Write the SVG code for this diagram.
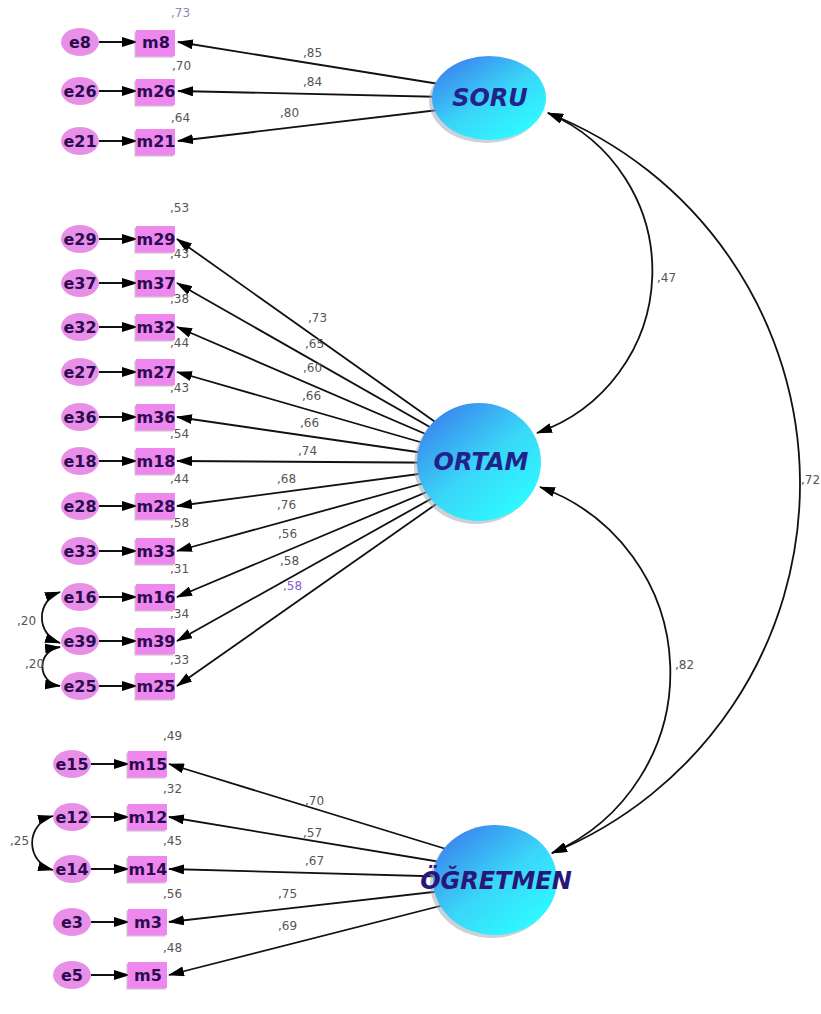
<svg xmlns="http://www.w3.org/2000/svg" width="821" height="1014" viewBox="0 0 821 1014">
<style>
.obs{fill:#ee88ee}
.obsh{fill:#b470b4;opacity:.55}
.err{fill:#e890e8}
.lbl{font-family:"DejaVu Sans",sans-serif;font-weight:bold;font-size:16px;fill:#2b0b4f;text-anchor:middle}
.lat{font-family:"DejaVu Sans",sans-serif;font-weight:bold;font-style:italic;font-size:24px;fill:#22228a;text-anchor:middle}
.num{font-family:"DejaVu Sans",sans-serif;font-size:12px;fill:#555}
.conn{stroke:#111;stroke-width:1.8;fill:none;marker-end:url(#ah)}
.cov{stroke:#111;stroke-width:1.8;fill:none;marker-start:url(#ah);marker-end:url(#ah)}
.sh{fill:#9aa4b4;opacity:.5}
</style>
<defs>
<marker id="ah" viewBox="0 0 16 10" refX="15" refY="5" markerWidth="16" markerHeight="10" markerUnits="userSpaceOnUse" orient="auto-start-reverse"><path d="M0,0 L16,5 L0,10 z" fill="#000"/></marker>
<linearGradient id="lg" x1="0.1" y1="0.1" x2="0.8" y2="0.9"><stop offset="0" stop-color="#3a84ee"/><stop offset="0.55" stop-color="#3ad6f8"/><stop offset="1" stop-color="#2ef8ff"/></linearGradient>
</defs>
<rect width="821" height="1014" fill="#fff"/>

<g id="connectors">
<path class="conn" d="M489,92 L178,42"/>
<path class="conn" d="M489,98 L178,91"/>
<path class="conn" d="M489,104 L178,141"/>
<path class="conn" d="M479,453 L177,239"/>
<path class="conn" d="M479,455 L177,283"/>
<path class="conn" d="M479,457 L177,327"/>
<path class="conn" d="M479,459 L177,372"/>
<path class="conn" d="M479,461 L177,417"/>
<path class="conn" d="M479,463 L177,461"/>
<path class="conn" d="M479,466 L177,506"/>
<path class="conn" d="M479,468 L177,551"/>
<path class="conn" d="M479,470 L177,597"/>
<path class="conn" d="M479,472 L177,641"/>
<path class="conn" d="M479,474 L177,686"/>
<path class="conn" d="M495,864 L169,764"/>
<path class="conn" d="M495,871 L169,817"/>
<path class="conn" d="M495,878 L169,869"/>
<path class="conn" d="M495,885 L169,922"/>
<path class="conn" d="M495,892 L169,975"/>
<path class="conn" d="M99,42 L137,42"/>
<path class="conn" d="M99,91 L137,91"/>
<path class="conn" d="M99,141 L137,141"/>
<path class="conn" d="M99,239 L137,239"/>
<path class="conn" d="M99,283 L137,283"/>
<path class="conn" d="M99,327 L137,327"/>
<path class="conn" d="M99,372 L137,372"/>
<path class="conn" d="M99,417 L137,417"/>
<path class="conn" d="M99,461 L137,461"/>
<path class="conn" d="M99,506 L137,506"/>
<path class="conn" d="M99,551 L137,551"/>
<path class="conn" d="M99,597 L137,597"/>
<path class="conn" d="M99,641 L137,641"/>
<path class="conn" d="M99,686 L137,686"/>
<path class="conn" d="M91,764 L129,764"/>
<path class="conn" d="M91,817 L129,817"/>
<path class="conn" d="M91,869 L129,869"/>
<path class="conn" d="M91,922 L129,922"/>
<path class="conn" d="M91,975 L129,975"/>
<path class="cov" d="M548,113 A171.6,171.6 0 0 1 537,433"/>
<path class="cov" d="M540,487 A197,197 0 0 1 552,853"/>
<path class="cov" d="M548,113 A398.8,398.8 0 0 1 552,853"/>
<path class="cov" d="M60,592 A27,27 0 0 0 60,643"/>
<path class="cov" d="M60,647 A19.6,19.6 0 0 0 60,686"/>
<path class="cov" d="M53,816 A27.9,27.9 0 0 0 53,870"/>
<text class="num" x="303" y="57">,85</text>
<text class="num" x="303" y="86">,84</text>
<text class="num" x="280" y="117">,80</text>
<text class="num" x="308" y="322">,73</text>
<text class="num" x="305" y="348">,65</text>
<text class="num" x="303" y="372">,60</text>
<text class="num" x="302" y="400">,66</text>
<text class="num" x="300" y="427">,66</text>
<text class="num" x="298" y="455">,74</text>
<text class="num" x="277" y="483">,68</text>
<text class="num" x="277" y="509">,76</text>
<text class="num" x="278" y="538">,56</text>
<text class="num" x="280" y="565">,58</text>
<text class="num" x="283" y="590" style="fill:#8a5ad0">,58</text>
<text class="num" x="305" y="805">,70</text>
<text class="num" x="303" y="837">,57</text>
<text class="num" x="305" y="865">,67</text>
<text class="num" x="278" y="898">,75</text>
<text class="num" x="278" y="930">,69</text>
<text class="num" x="657" y="282">,47</text>
<text class="num" x="675" y="669">,82</text>
<text class="num" x="801" y="484">,72</text>
<text class="num" x="17" y="625">,20</text>
<text class="num" x="25" y="668">,20</text>
<text class="num" x="10" y="845">,25</text>
</g>

<g id="SORU"><ellipse class="sh" cx="486" cy="101" rx="57" ry="42"/><ellipse cx="489" cy="98" rx="57" ry="42" fill="url(#lg)"/><text class="lat" x="490" y="106">SORU</text></g>
<g id="ORTAM"><ellipse class="sh" cx="476" cy="465" rx="62" ry="59"/><ellipse cx="479" cy="462" rx="62" ry="59" fill="url(#lg)"/><text class="lat" x="481" y="470">ORTAM</text></g>
<g id="OGRETMEN"><ellipse class="sh" cx="492" cy="883" rx="62" ry="55"/><ellipse cx="495" cy="880" rx="62" ry="55" fill="url(#lg)"/><text class="lat" x="496" y="889" style="fill:#2a1678">ÖĞRETMEN</text></g>

<g id="m8"><rect class="obsh" x="134.5" y="31.5" width="39" height="26"/><rect class="obs" x="136" y="30" width="39" height="26"/><text class="lbl" x="156" y="48">m8</text><text class="num" x="171" y="17" style="fill:#8a8ab8">,73</text></g>
<g id="m26"><rect class="obsh" x="134.5" y="80.5" width="39" height="26"/><rect class="obs" x="136" y="79" width="39" height="26"/><text class="lbl" x="156" y="97">m26</text><text class="num" x="172" y="70">,70</text></g>
<g id="m21"><rect class="obsh" x="134.5" y="130.5" width="39" height="26"/><rect class="obs" x="136" y="129" width="39" height="26"/><text class="lbl" x="156" y="147">m21</text><text class="num" x="171" y="122">,64</text></g>
<g id="e8"><ellipse class="err" cx="80" cy="42" rx="19" ry="14"/><text class="lbl" x="80" y="48">e8</text></g>
<g id="e26"><ellipse class="err" cx="80" cy="91" rx="19" ry="14"/><text class="lbl" x="80" y="97">e26</text></g>
<g id="e21"><ellipse class="err" cx="80" cy="141" rx="19" ry="14"/><text class="lbl" x="80" y="147">e21</text></g>

<g id="m29"><rect class="obsh" x="134.5" y="227.5" width="39" height="26"/><rect class="obs" x="136" y="226" width="39" height="26"/><text class="lbl" x="156" y="245">m29</text><text class="num" x="170" y="212">,53</text></g>
<g id="m37"><rect class="obsh" x="134.5" y="271.5" width="39" height="26"/><rect class="obs" x="136" y="270" width="39" height="26"/><text class="lbl" x="156" y="289">m37</text><text class="num" x="170" y="258">,43</text></g>
<g id="m32"><rect class="obsh" x="134.5" y="315.5" width="39" height="26"/><rect class="obs" x="136" y="314" width="39" height="26"/><text class="lbl" x="156" y="333">m32</text><text class="num" x="170" y="303">,38</text></g>
<g id="m27"><rect class="obsh" x="134.5" y="360.5" width="39" height="26"/><rect class="obs" x="136" y="359" width="39" height="26"/><text class="lbl" x="156" y="378">m27</text><text class="num" x="170" y="347">,44</text></g>
<g id="m36"><rect class="obsh" x="134.5" y="405.5" width="39" height="26"/><rect class="obs" x="136" y="404" width="39" height="26"/><text class="lbl" x="156" y="423">m36</text><text class="num" x="170" y="392">,43</text></g>
<g id="m18"><rect class="obsh" x="134.5" y="449.5" width="39" height="26"/><rect class="obs" x="136" y="448" width="39" height="26"/><text class="lbl" x="156" y="467">m18</text><text class="num" x="170" y="438">,54</text></g>
<g id="m28"><rect class="obsh" x="134.5" y="494.5" width="39" height="26"/><rect class="obs" x="136" y="493" width="39" height="26"/><text class="lbl" x="156" y="512">m28</text><text class="num" x="170" y="483">,44</text></g>
<g id="m33"><rect class="obsh" x="134.5" y="539.5" width="39" height="26"/><rect class="obs" x="136" y="538" width="39" height="26"/><text class="lbl" x="156" y="557">m33</text><text class="num" x="170" y="527">,58</text></g>
<g id="m16"><rect class="obsh" x="134.5" y="585.5" width="39" height="26"/><rect class="obs" x="136" y="584" width="39" height="26"/><text class="lbl" x="156" y="603">m16</text><text class="num" x="170" y="573">,31</text></g>
<g id="m39"><rect class="obsh" x="134.5" y="629.5" width="39" height="26"/><rect class="obs" x="136" y="628" width="39" height="26"/><text class="lbl" x="156" y="647">m39</text><text class="num" x="170" y="618">,34</text></g>
<g id="m25"><rect class="obsh" x="134.5" y="674.5" width="39" height="26"/><rect class="obs" x="136" y="673" width="39" height="26"/><text class="lbl" x="156" y="692">m25</text><text class="num" x="170" y="664">,33</text></g>
<g id="e29"><ellipse class="err" cx="80" cy="239" rx="19" ry="14"/><text class="lbl" x="80" y="245">e29</text></g>
<g id="e37"><ellipse class="err" cx="80" cy="283" rx="19" ry="14"/><text class="lbl" x="80" y="289">e37</text></g>
<g id="e32"><ellipse class="err" cx="80" cy="327" rx="19" ry="14"/><text class="lbl" x="80" y="333">e32</text></g>
<g id="e27"><ellipse class="err" cx="80" cy="372" rx="19" ry="14"/><text class="lbl" x="80" y="378">e27</text></g>
<g id="e36"><ellipse class="err" cx="80" cy="417" rx="19" ry="14"/><text class="lbl" x="80" y="423">e36</text></g>
<g id="e18"><ellipse class="err" cx="80" cy="461" rx="19" ry="14"/><text class="lbl" x="80" y="467">e18</text></g>
<g id="e28"><ellipse class="err" cx="80" cy="506" rx="19" ry="14"/><text class="lbl" x="80" y="512">e28</text></g>
<g id="e33"><ellipse class="err" cx="80" cy="551" rx="19" ry="14"/><text class="lbl" x="80" y="557">e33</text></g>
<g id="e16"><ellipse class="err" cx="80" cy="597" rx="19" ry="14"/><text class="lbl" x="80" y="603">e16</text></g>
<g id="e39"><ellipse class="err" cx="80" cy="641" rx="19" ry="14"/><text class="lbl" x="80" y="647">e39</text></g>
<g id="e25"><ellipse class="err" cx="80" cy="686" rx="19" ry="14"/><text class="lbl" x="80" y="692">e25</text></g>

<g id="m15"><rect class="obsh" x="126.5" y="752.5" width="39" height="26"/><rect class="obs" x="128" y="751" width="39" height="26"/><text class="lbl" x="148" y="770">m15</text><text class="num" x="163" y="740">,49</text></g>
<g id="m12"><rect class="obsh" x="126.5" y="805.5" width="39" height="26"/><rect class="obs" x="128" y="804" width="39" height="26"/><text class="lbl" x="148" y="823">m12</text><text class="num" x="163" y="793">,32</text></g>
<g id="m14"><rect class="obsh" x="126.5" y="857.5" width="39" height="26"/><rect class="obs" x="128" y="856" width="39" height="26"/><text class="lbl" x="148" y="875">m14</text><text class="num" x="163" y="845">,45</text></g>
<g id="m3"><rect class="obsh" x="126.5" y="910.5" width="39" height="26"/><rect class="obs" x="128" y="909" width="39" height="26"/><text class="lbl" x="148" y="928">m3</text><text class="num" x="163" y="898">,56</text></g>
<g id="m5"><rect class="obsh" x="126.5" y="963.5" width="39" height="26"/><rect class="obs" x="128" y="962" width="39" height="26"/><text class="lbl" x="148" y="981">m5</text><text class="num" x="163" y="952">,48</text></g>
<g id="e15"><ellipse class="err" cx="72" cy="764" rx="19" ry="14"/><text class="lbl" x="72" y="770">e15</text></g>
<g id="e12"><ellipse class="err" cx="72" cy="817" rx="19" ry="14"/><text class="lbl" x="72" y="823">e12</text></g>
<g id="e14"><ellipse class="err" cx="72" cy="869" rx="19" ry="14"/><text class="lbl" x="72" y="875">e14</text></g>
<g id="e3"><ellipse class="err" cx="72" cy="922" rx="19" ry="14"/><text class="lbl" x="72" y="928">e3</text></g>
<g id="e5"><ellipse class="err" cx="72" cy="975" rx="19" ry="14"/><text class="lbl" x="72" y="981">e5</text></g>
</svg>
